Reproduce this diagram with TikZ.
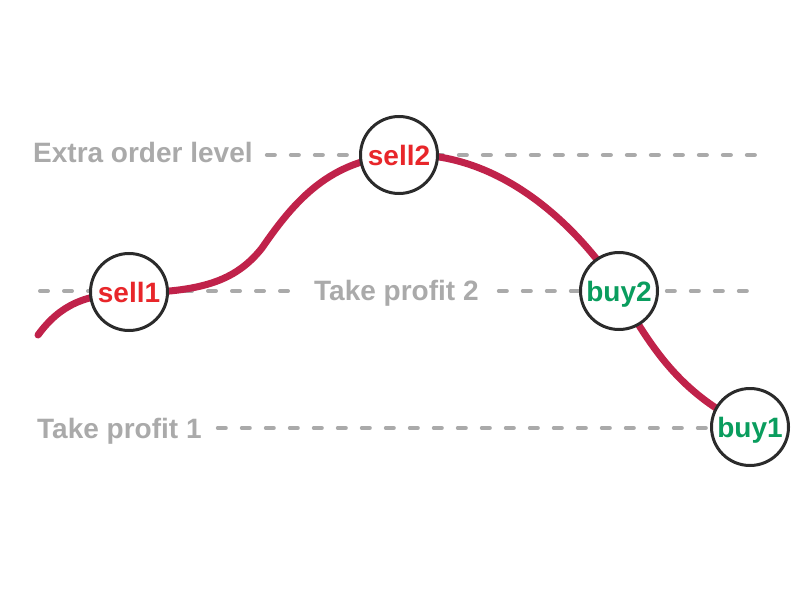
\documentclass[tikz,border=0pt]{standalone}
\usepackage{fontspec}
\setmainfont{Liberation Sans}
\usepackage{xcolor}

\definecolor{levelgray}{HTML}{AAAAAA}
\definecolor{pricered}{HTML}{C0224A}
\definecolor{sellred}{HTML}{E8262A}
\definecolor{buygreen}{HTML}{0A9D5E}
\definecolor{ringgray}{HTML}{2B2B2B}

\tikzset{
    level/.style={levelgray, line width=4pt, line cap=round, dash pattern=on 8pt off 16pt},
    levellabel/.style={text=levelgray, font=\fontsize{28}{28}\selectfont\bfseries, inner sep=0pt, anchor=base west},
    order/.style={circle, draw=ringgray, fill=white, line width=3pt, minimum size=77pt, inner sep=0pt,
        font=\fontsize{28}{28}\selectfont\bfseries, text height=20pt, text depth=0pt},
    sellorder/.style={order, text=sellred},
    buyorder/.style={order, text=buygreen},
}

\begin{document}
\begin{tikzpicture}[x=1pt, y=-1pt]
            \useasboundingbox (0,0) rectangle (802,604);
            % level labels
            \node[levellabel] (extra) at (33,163) {Extra order level};
            \node[levellabel] (tp2) at (314,300) {Take profit 2};
            \node[levellabel] (tp1) at (37,438) {Take profit 1};
            \coordinate (extraend) at (760,155);
            \coordinate (tp2start) at (40,291);
            \coordinate (tp2end) at (760,291);
            \coordinate (tp1end) at (715,428);
            % dashed levels
            \draw[level] ([xshift=14pt]extra.east |- extraend) -- (extraend);
            \draw[level] (tp2start) -- ([xshift=-18pt]tp2.west |- tp2start);
            \draw[level] ([xshift=20pt]tp2.east |- tp2end) -- (tp2end);
            \draw[level] ([xshift=16pt]tp1.east |- tp1end) -- (tp1end);
            % price
            \draw[pricered, line width=7pt, line cap=round] (38,335) .. controls (60,305) and (85,294) .. (129,293)
                .. controls (200,292) and (235,282) .. (262,248) .. controls (295,200) and (330,160) .. (399,155)
                .. controls (480,150) and (550,200) .. (599,262) .. controls (640,320) and (660,385) .. (750,427);
            % orders
            \node[sellorder] (sell1) at (129,292) {sell1};
            \node[sellorder] (sell2) at (399,155) {sell2};
            \node[buyorder] (buy2) at (619,291) {buy2};
            \node[buyorder] (buy1) at (750,427) {buy1};
        \end{tikzpicture}
\end{document}
